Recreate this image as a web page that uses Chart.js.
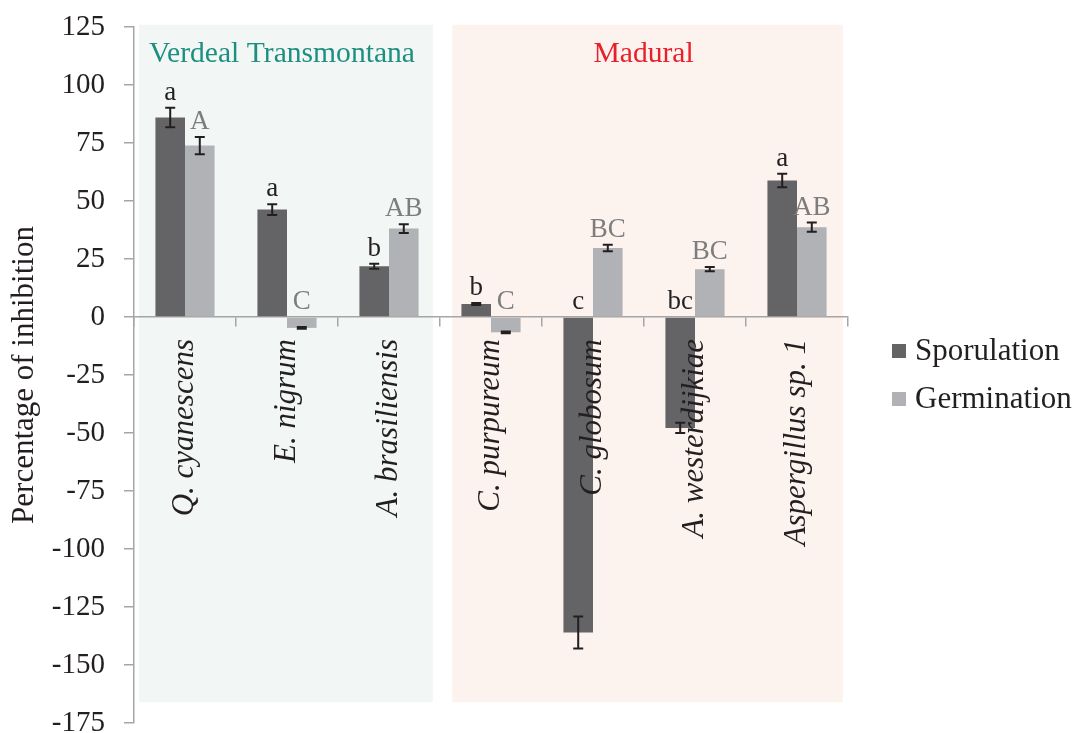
<!DOCTYPE html>
<html>
<head>
<meta charset="utf-8">
<script src="https://cdn.jsdelivr.net/npm/chart.js@4.4.1/dist/chart.umd.min.js"></script>
<style>
  html, body { margin: 0; padding: 0; background: #fff; }
</style>
</head>
<body>
<canvas id="chart" width="1074" height="733"></canvas>
<script>
// inhibition (%) of sporulation and germination per fungal isolate
const species = ["Q. cyanescens", "E. nigrum", "A. brasiliensis", "C. purpureum",
                 "C. globosum", "A. westerdijkiae", "Aspergillus sp. 1"];
const sporulation = [86.0, 46.3, 21.9, 5.6, -136.0, -47.8, 58.8];
const sporulationErr = [4.2, 2.3, 1.1, 0.4, 6.9, 2.2, 2.9];
const germination = [73.9, -4.7, 38.1, -6.6, 29.7, 20.6, 38.7];
const germinationErr = [3.7, 0.4, 1.9, 0.4, 1.4, 0.9, 2.0];
const sporulationLetters = ["a", "a", "b", "b", "c", "bc", "a"];
const germinationLetters = ["A", "C", "AB", "C", "BC", "BC", "AB"];

// olive cultivar each isolate came from (first / last category index)
const cultivars = ["Verdeal Transmontana", "Madural"];
const cultivarFirst = [0, 3];
const cultivarLast = [2, 6];

const yMin = -175, yMax = 125, yStep = 25;

const SERIF = "'Liberation Serif', 'Times New Roman', serif";
const INK = "#231f20";
const AXIS = "#a6a6a6";
const DARK = "#646466";
const LIGHT = "#b1b2b5";
const panelFill = ["#f2f7f5", "#fcf3ef"];
const panelText = ["#1d8f80", "#e8202a"];

const errs = [sporulationErr, germinationErr];
const letters = [sporulationLetters, germinationLetters];
const letterColor = [INK, "#7d7d7d"];

// background panels + cultivar names
const panels = {
  id: "panels",
  beforeDraw(chart) {
    const { ctx, scales: { x, y } } = chart;
    ctx.save();
    cultivars.forEach((name, i) => {
      const left = x.getPixelForValue(cultivarFirst[i] - (i === 0 ? 0.45 : 0.38));
      const right = x.getPixelForValue(cultivarLast[i] + (i === 0 ? 0.43 : 0.45));
      const top = y.getPixelForValue(126);
      const bottom = y.getPixelForValue(-166);
      ctx.fillStyle = panelFill[i];
      ctx.fillRect(left, top, right - left, bottom - top);
      ctx.fillStyle = panelText[i];
      ctx.font = "29.6px " + SERIF;
      ctx.textAlign = "center";
      ctx.textBaseline = "alphabetic";
      ctx.fillText(name, (left + right) / 2 - 4, y.getPixelForValue(110));
    });
    ctx.restore();
  }
};

// error bars and significance letters
const errorBars = {
  id: "errorBars",
  afterDatasetsDraw(chart) {
    const { ctx, scales: { y } } = chart;
    ctx.save();
    chart.data.datasets.forEach((ds, d) => {
      const meta = chart.getDatasetMeta(d);
      meta.data.forEach((bar, i) => {
        const v = ds.data[i], e = errs[d][i];
        const yHi = y.getPixelForValue(v + e);
        const yLo = y.getPixelForValue(v - e);
        ctx.strokeStyle = INK;
        ctx.lineWidth = 2;
        ctx.beginPath();
        ctx.moveTo(bar.x, yHi); ctx.lineTo(bar.x, yLo);
        ctx.moveTo(bar.x - 5, yHi); ctx.lineTo(bar.x + 5, yHi);
        ctx.moveTo(bar.x - 5, yLo); ctx.lineTo(bar.x + 5, yLo);
        ctx.stroke();

        ctx.fillStyle = letterColor[d];
        ctx.font = "27px " + SERIF;
        ctx.textAlign = "center";
        ctx.textBaseline = "alphabetic";
        ctx.fillText(letters[d][i], bar.x, y.getPixelForValue(Math.max(v + e, 0)) - 8);
      });
    });
    ctx.restore();
  }
};

// legend to the right of the plot
const sideLegend = {
  id: "sideLegend",
  afterDraw(chart) {
    const { ctx, chartArea } = chart;
    const mid = (chartArea.top + chartArea.bottom) / 2;
    ctx.save();
    ctx.font = "31px " + SERIF;
    ctx.textBaseline = "middle";
    ctx.textAlign = "left";
    chart.data.datasets.forEach((ds, d) => {
      const cy = mid + (d === 0 ? -24 : 24);
      const bx = chartArea.right + 44;
      ctx.fillStyle = ds.backgroundColor;
      ctx.fillRect(bx, cy - 7, 14, 14);
      ctx.fillStyle = INK;
      ctx.fillText(ds.label, bx + 23, cy + 1);
    });
    ctx.restore();
  }
};

new Chart(document.getElementById("chart"), {
  type: "bar",
  data: {
    labels: species,
    datasets: [
      { label: "Sporulation", data: sporulation, backgroundColor: DARK,
        categoryPercentage: 0.58, barPercentage: 1 },
      { label: "Germination", data: germination, backgroundColor: LIGHT,
        categoryPercentage: 0.58, barPercentage: 1 }
    ]
  },
  options: {
    responsive: false,
    animation: false,
    devicePixelRatio: 1,
    layout: { autoPadding: false, padding: { left: 0, top: 27, right: 226, bottom: 10 } },
    plugins: { legend: { display: false }, tooltip: { enabled: false } },
    scales: {
      x: {
        position: { y: 0 },
        // axis sits on the zero line, so it takes no room in the layout
        afterFit(scale) { scale.height = 0; },
        grid: { drawOnChartArea: false, drawTicks: true, tickLength: 9, color: AXIS, lineWidth: 1.5, offset: true },
        border: { color: AXIS, width: 1.5 },
        ticks: {
          z: 1, // names are written over the negative bars
          autoSkip: false, minRotation: 90, maxRotation: 90, padding: 13,
          color: INK, font: { family: SERIF, size: 31, style: "italic" }
        }
      },
      y: {
        min: yMin, max: yMax,
        // fixed axis width; the -175 label may run past the bottom edge
        afterFit(scale) {
          scale.width = 134;
          scale.paddingTop = 0;
          scale.paddingBottom = 0;
        },
        grid: { drawOnChartArea: false, drawTicks: true, tickLength: 10, color: AXIS, lineWidth: 1.5 },
        border: { color: AXIS, width: 1.5 },
        ticks: {
          stepSize: yStep, padding: 19, color: INK,
          font: { family: SERIF, size: 29 },
          callback: (v) => String(v)
        },
        title: {
          display: true, text: "Percentage of inhibition", color: INK,
          font: { family: SERIF, size: 31 }, padding: { top: 6, bottom: 0 }
        }
      }
    }
  },
  plugins: [panels, errorBars, sideLegend]
});
</script>
</body>
</html>
